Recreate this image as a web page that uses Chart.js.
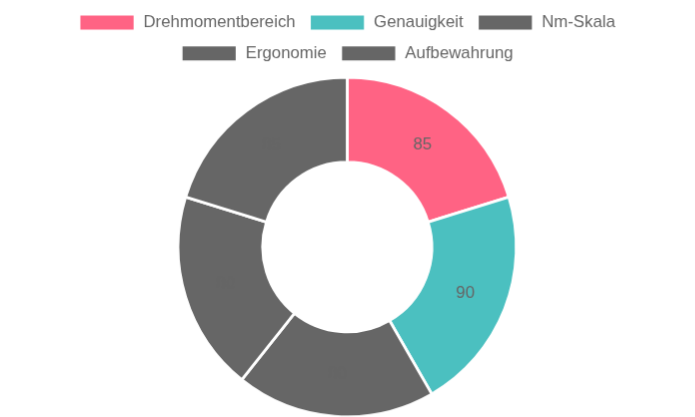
<!DOCTYPE html>
<html lang="de">
<head>
  <meta charset="UTF-8" />
  <title>Drehmomentschlüssel Bewertung</title>
  <script src="https://cdn.jsdelivr.net/npm/chart.js"></script>
  <style>
    html { overflow: hidden; }
    html, body { margin: 0; padding: 0; background: #fff; }
    body { width: 695px; height: 417px; }
    /* Diagramm mit Standardgrößen zeichnen und 1,4-fach vergrößert anzeigen */
    #wrap {
      width: 496.4px;
      height: 297.8px;
      transform: scale(1.4);
      transform-origin: 0 0;
    }
  </style>
</head>
<body>
  <div id="wrap"><canvas id="donut"></canvas></div>

  <script>
    const labels = ['Drehmomentbereich', 'Genauigkeit', 'Nm-Skala', 'Ergonomie', 'Aufbewahrung'];
    const values = [85, 90, 80, 80, 85];
    const colors = ['#ff6384', '#4bc0c0', '#666666', '#666666', '#666666'];

    // Werte mittig in die Segmente schreiben
    const valueLabels = {
      id: 'valueLabels',
      afterDatasetsDraw(chart) {
        const ctx = chart.ctx;
        const meta = chart.getDatasetMeta(0);
        ctx.save();
        ctx.font = '12px "Liberation Sans", Arial, sans-serif';
        ctx.fillStyle = '#666';
        ctx.textAlign = 'center';
        ctx.textBaseline = 'middle';
        meta.data.forEach((arc, i) => {
          const p = arc.tooltipPosition();
          ctx.fillText(values[i], p.x, p.y);
        });
        ctx.restore();
      }
    };

    Chart.defaults.font.family = '"Liberation Sans", Arial, sans-serif';
    Chart.defaults.color = '#666';

    new Chart(document.getElementById('donut'), {
      type: 'doughnut',
      data: {
        labels: labels,
        datasets: [{
          data: values,
          backgroundColor: colors,
          borderColor: '#fff',
          borderWidth: 2
        }]
      },
      options: {
        responsive: true,
        maintainAspectRatio: false,
        animation: false,
        devicePixelRatio: 1.4,
        cutout: '50%',
        plugins: {
          legend: { position: 'top' },
          tooltip: { enabled: false }
        }
      },
      plugins: [valueLabels]
    });
  </script>
</body>
</html>
